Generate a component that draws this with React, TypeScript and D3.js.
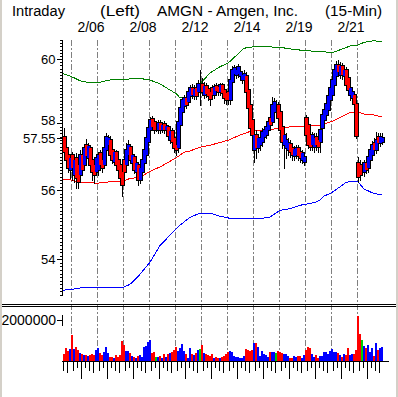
import React from 'react';
import * as d3 from 'd3';

const titleParts = ['Intraday', '(Left)', 'AMGN - Amgen, Inc.', '(15-Min)'];
const sessionLabels = ['2/04', '2/05', '2/06', '2/07', '2/08', '2/11', '2/12', '2/13', '2/14', '2/15', '2/19', '2/20', '2/21'];
const sessionStart = [-9, 4, 17, 30, 43, 56, 69, 82, 95, 108, 121, 134, 147];
const labeledSessions = ['2/06', '2/08', '2/12', '2/14', '2/19', '2/21'];
const priceTicks = [60, 58, 56, 54];
const volumeTicks = [2000000];

const open = [
  57.59, 57.25, 57.04, 56.59, 57.04, 56.44, 56.95, 56.74, 56.44, 57.04,
  56.74, 57.34, 56.95, 57.25, 56.89, 56.74, 56.53, 56.59, 57.10, 56.89,
  56.74, 57.19, 57.34, 57.49, 57.19, 56.83, 57.13, 56.89, 56.74, 56.53,
  56.89, 56.74, 57.04, 57.28, 56.80, 56.98, 56.53, 56.74, 56.30, 56.53,
  56.80, 57.04, 57.43, 57.80, 58.13, 58.04, 57.89, 57.80, 58.01, 57.80,
  57.98, 57.80, 57.89, 57.49, 57.77, 57.55, 57.34, 57.25, 57.95, 58.35,
  58.53, 58.78, 58.66, 58.84, 59.09, 58.84, 59.09, 58.97, 59.15, 59.22,
  58.88, 59.15, 59.06, 58.97, 59.09, 58.88, 59.15, 59.12, 58.97, 59.19,
  59.03, 58.94, 58.97, 58.72, 59.28, 59.53, 59.50, 59.53, 59.47, 59.34,
  59.34, 59.47, 59.03, 58.57, 58.10, 57.19, 57.65, 57.25, 57.34, 57.43,
  57.59, 57.65, 57.80, 58.16, 58.04, 58.35, 58.47, 58.57, 58.35, 57.89,
  57.34, 57.25, 57.19, 57.37, 57.25, 57.01, 57.04, 57.25, 57.13, 56.89,
  56.83, 58.16, 57.95, 57.65, 57.34, 57.28, 57.59, 57.49, 57.43, 57.86,
  58.10, 58.26, 58.41, 58.72, 58.88, 59.19, 59.47, 59.81, 59.50, 59.78,
  59.47, 59.65, 59.40, 58.88, 58.78, 58.88, 58.60, 56.80, 56.74, 56.65,
  56.53, 56.80, 56.65, 56.89, 57.04, 57.40, 57.19, 57.59, 57.40, 57.43,
];
const close = [
  57.13, 56.89, 56.65, 56.95, 56.65, 56.89, 56.36, 56.24, 57.04, 56.59,
  57.25, 57.01, 57.31, 56.74, 56.53, 56.44, 56.95, 57.04, 56.74, 56.65,
  57.25, 57.59, 57.55, 57.04, 56.89, 57.13, 56.74, 56.59, 56.36, 56.15,
  56.53, 57.19, 57.34, 56.89, 57.04, 56.59, 56.80, 56.30, 56.65, 56.89,
  57.19, 57.55, 57.86, 58.10, 57.89, 57.80, 57.89, 58.01, 57.80, 57.95,
  57.80, 57.92, 57.62, 57.77, 57.43, 57.25, 57.19, 58.04, 58.47, 58.72,
  58.78, 58.57, 58.97, 59.09, 58.88, 59.06, 58.84, 59.22, 59.15, 58.97,
  59.15, 58.91, 58.84, 58.75, 58.88, 59.12, 59.00, 58.97, 59.19, 58.94,
  58.78, 58.72, 58.72, 59.34, 59.65, 59.72, 59.65, 59.75, 59.59, 59.50,
  59.53, 58.97, 58.47, 57.86, 57.65, 57.65, 57.25, 57.55, 57.55, 57.74,
  57.80, 57.89, 58.04, 57.95, 58.57, 58.66, 58.47, 58.16, 57.80, 57.43,
  57.65, 57.49, 57.40, 57.13, 57.04, 57.22, 57.25, 57.01, 56.95, 57.10,
  56.98, 57.65, 57.34, 57.28, 57.65, 57.55, 57.34, 57.28, 57.80, 58.26,
  58.41, 58.60, 58.84, 59.09, 59.34, 59.65, 59.81, 59.59, 59.78, 59.50,
  59.65, 59.19, 59.03, 59.09, 58.97, 58.60, 57.62, 56.38, 56.44, 56.65,
  56.80, 56.59, 56.98, 57.19, 57.34, 57.19, 57.49, 57.40, 57.59, 57.55,
];
const high = [
  57.86, 57.34, 57.13, 57.04, 57.13, 57.04, 57.10, 56.89, 57.19, 57.19,
  57.34, 57.52, 57.40, 57.34, 56.98, 56.89, 57.04, 57.13, 57.19, 57.04,
  57.37, 57.71, 57.65, 57.62, 57.28, 57.19, 57.19, 56.98, 56.83, 56.65,
  57.04, 57.40, 57.49, 57.34, 57.13, 57.04, 56.89, 56.83, 56.74, 56.95,
  57.25, 57.65, 57.95, 58.19, 58.22, 58.16, 58.01, 58.10, 58.10, 58.04,
  58.07, 58.01, 57.95, 57.86, 57.86, 57.65, 57.49, 58.16, 58.57, 58.81,
  58.88, 58.91, 59.09, 59.19, 59.22, 59.19, 59.25, 59.34, 59.65, 59.40,
  59.28, 59.25, 59.15, 59.09, 59.19, 59.22, 59.25, 59.22, 59.25, 59.25,
  59.12, 59.06, 59.09, 59.44, 59.78, 59.81, 59.78, 59.84, 59.72, 59.59,
  59.65, 59.59, 59.15, 58.72, 58.22, 57.86, 57.80, 57.65, 57.68, 57.86,
  57.89, 57.98, 58.16, 58.35, 58.81, 58.78, 58.72, 58.66, 58.47, 57.98,
  57.74, 57.71, 57.55, 57.49, 57.34, 57.31, 57.34, 57.34, 57.25, 57.19,
  57.07, 58.26, 58.10, 57.80, 57.74, 57.71, 57.71, 57.62, 57.89, 58.35,
  58.53, 58.72, 58.97, 59.19, 59.47, 59.78, 59.94, 59.97, 59.91, 59.87,
  59.78, 59.75, 59.50, 59.19, 59.06, 58.97, 58.66, 56.98, 56.89, 56.83,
  56.89, 56.95, 57.07, 57.28, 57.46, 57.55, 57.74, 57.71, 57.71, 57.71,
];
const low = [
  57.04, 56.80, 56.53, 56.36, 56.30, 56.24, 56.06, 56.06, 56.30, 56.50,
  56.65, 56.95, 56.89, 56.65, 56.30, 56.21, 56.44, 56.44, 56.65, 56.53,
  56.65, 57.13, 57.19, 56.95, 56.80, 56.74, 56.65, 56.50, 56.15, 55.82,
  56.36, 56.65, 56.89, 56.80, 56.71, 56.50, 56.41, 56.15, 56.21, 56.44,
  56.71, 56.95, 57.34, 57.71, 57.80, 57.71, 57.77, 57.71, 57.71, 57.74,
  57.71, 57.74, 57.49, 57.40, 57.34, 57.13, 57.04, 57.13, 57.86, 58.26,
  58.41, 58.47, 58.57, 58.72, 58.78, 58.75, 58.75, 58.84, 58.57, 58.88,
  58.78, 58.81, 58.72, 58.57, 58.78, 58.78, 58.91, 58.88, 58.88, 58.84,
  58.63, 58.60, 58.60, 58.60, 59.19, 59.44, 59.40, 59.44, 59.37, 59.25,
  59.22, 58.84, 58.35, 57.74, 57.19, 56.83, 56.95, 57.13, 57.19, 57.31,
  57.49, 57.55, 57.71, 57.86, 57.95, 58.26, 58.26, 58.04, 57.65, 57.25,
  56.65, 56.95, 57.04, 56.98, 56.89, 56.89, 56.95, 56.89, 56.83, 56.80,
  56.74, 57.49, 57.25, 57.19, 57.19, 57.13, 57.19, 57.13, 57.13, 57.74,
  57.98, 58.16, 58.35, 58.60, 58.78, 59.09, 59.34, 59.47, 59.40, 59.37,
  59.34, 59.09, 58.94, 58.72, 58.66, 58.50, 57.55, 56.24, 56.30, 56.44,
  56.41, 56.50, 56.53, 56.80, 56.89, 57.10, 57.10, 57.31, 57.31, 57.37,
];
const volume = [
  327000, 634000, 488000, 585000, 1268000, 585000, 683000, 537000, 376000, 327000,
  293000, 293000, 259000, 293000, 356000, 293000, 537000, 620000, 376000, 293000,
  454000, 698000, 376000, 210000, 210000, 132000, 293000, 210000, 293000, 976000,
  780000, 488000, 488000, 376000, 259000, 210000, 161000, 244000, 293000, 210000,
  698000, 732000, 941000, 1024000, 376000, 424000, 210000, 210000, 259000, 161000,
  327000, 210000, 327000, 376000, 424000, 537000, 698000, 488000, 649000, 815000,
  488000, 327000, 161000, 620000, 327000, 293000, 376000, 537000, 585000, 780000,
  376000, 327000, 293000, 259000, 327000, 132000, 210000, 132000, 161000, 210000,
  259000, 327000, 424000, 488000, 454000, 244000, 195000, 195000, 161000, 161000,
  259000, 585000, 537000, 488000, 537000, 893000, 863000, 698000, 259000, 488000,
  327000, 293000, 210000, 454000, 424000, 454000, 376000, 488000, 424000, 376000,
  327000, 327000, 244000, 161000, 161000, 229000, 195000, 229000, 244000, 161000,
  293000, 537000, 698000, 620000, 327000, 210000, 293000, 161000, 259000, 259000,
  454000, 424000, 327000, 488000, 571000, 454000, 424000, 376000, 293000, 195000,
  327000, 293000, 620000, 293000, 327000, 327000, 537000, 2195000, 1302000, 1024000,
  746000, 649000, 780000, 424000, 649000, 259000, 893000, 537000, 649000, 698000,
];

const upperIdx = [-1, 4, 8, 13, 17, 21, 26, 30, 34, 38, 43, 48, 53, 56, 58, 63, 68, 73, 78, 82, 86, 90, 95, 100, 108, 113, 121, 128, 134, 138, 143, 147, 150, 155, 159];
const upperVal = [59.55, 59.44, 59.32, 59.25, 59.25, 59.32, 59.37, 59.34, 59.39, 59.39, 59.34, 59.22, 59.03, 58.92, 58.79, 58.82, 59.22, 59.56, 59.76, 59.87, 60.10, 60.34, 60.39, 60.39, 60.37, 60.32, 60.26, 60.24, 60.20, 60.29, 60.41, 60.44, 60.53, 60.58, 60.54];
const midIdx = [-1, 4, 8, 17, 23, 30, 33, 38, 43, 48, 56, 60, 63, 68, 73, 82, 88, 95, 100, 108, 113, 121, 128, 134, 138, 143, 147, 150, 155, 159];
const midVal = [56.32, 56.30, 56.23, 56.21, 56.25, 56.28, 56.35, 56.38, 56.56, 56.69, 56.96, 57.13, 57.17, 57.28, 57.34, 57.49, 57.65, 57.80, 57.80, 57.85, 57.90, 57.92, 57.95, 58.06, 58.18, 58.33, 58.36, 58.29, 58.26, 58.20];
const lowerIdx = [-1, 4, 11, 17, 30, 33, 36, 38, 43, 48, 53, 58, 63, 68, 73, 78, 83, 98, 103, 108, 113, 118, 121, 126, 128, 130, 133, 138, 141, 143, 147, 150, 155, 159];
const lowerVal = [53.13, 53.16, 53.22, 53.22, 53.22, 53.30, 53.46, 53.58, 53.92, 54.40, 54.69, 54.98, 55.21, 55.33, 55.33, 55.24, 55.18, 55.17, 55.22, 55.41, 55.46, 55.56, 55.59, 55.65, 55.71, 55.83, 55.90, 56.10, 56.23, 56.26, 56.25, 56.04, 55.90, 55.87];

const FONT = "'Liberation Sans', Arial, sans-serif";

export default function App() {
  const N = open.length;
  const x = d3.scaleLinear().domain([0, N]).range([63, 63 + 2 * N]);
  const y = d3.scaleLog().domain([53, 60]).range([295, 59]);
  const yv = d3.scaleLinear().domain([0, 2000000]).range([361, 320]);
  const cx = (i: number) => x(i) + 1;
  const colorOf = (i: number) =>
    close[i] > open[i] ? '#0000ff' : close[i] < open[i] ? '#ff0000' : '#00d000';

  const band = (idx: number[], vals: number[]) =>
    d3.line<number>().x((_, j) => cx(idx[j])).y((d) => y(d))(vals) || '';

  const minorTicks = d3.range(530, 607).map((v) => v / 10);
  const last = close[N - 1];
  const yLast = y(last);

  const tickOffsets = [1, 3, 5, 7, 9, 11];
  const tickLens = [9, 6, 17, 6, 9, 11];

  const titleX = [12, 100, 157, 325];
  const titleW = [53, 40, 141, 57];

  const geo = open.map((o, i) => {
    const c = close[i];
    const x0 = Math.round(x(i));
    const top = Math.round(y(Math.max(o, c)));
    const bot = Math.round(y(Math.min(o, c)));
    const hi = Math.round(y(high[i]));
    const lo = Math.round(y(low[i]));
    return { x0, top, bot: Math.max(bot, top + 1), hi, lo, doji: o === c };
  });

  return (
    <svg
      width={398}
      height={397}
      style={{ position: 'absolute', left: 0, top: 0, background: '#fff' }}
      fontFamily={FONT}
    >
      <rect x={0} y={0} width={398} height={397} fill="#fff" />

      {/* day separators */}
      {sessionStart
        .filter((s) => s > 0)
        .map((s) => (
          <line
            key={'sep' + s}
            x1={x(s) + 0.5}
            x2={x(s) + 0.5}
            y1={40}
            y2={361}
            stroke="#808080"
            strokeDasharray="6,2,2,2"
          />
        ))}

      {/* bands */}
      <g fill="none" strokeWidth={1} shapeRendering="crispEdges">
        <path d={band(upperIdx, upperVal)} stroke="#008000" />
        <path d={band(midIdx, midVal)} stroke="#ff0000" />
        <path d={band(lowerIdx, lowerVal)} stroke="#0000ff" />
      </g>

      {/* candles: black outline pass */}
      <g shapeRendering="crispEdges" fill="#000">
        {geo.map((g, i) => (
          <g key={'cb' + i}>
            <rect x={g.x0 + 1} y={g.hi} width={1} height={g.lo - g.hi + 1} />
            <rect x={g.x0 - 1} y={g.top - 1} width={5} height={g.bot - g.top + 2} />
          </g>
        ))}
      </g>
      {/* candles: colour pass */}
      <g shapeRendering="crispEdges">
        {geo.map((g, i) =>
          g.doji ? null : (
            <rect key={'cf' + i} x={g.x0} y={g.top} width={3} height={g.bot - g.top} fill={colorOf(i)} />
          )
        )}
      </g>

      {/* price axis */}
      <g shapeRendering="crispEdges" stroke="#000">
        <line x1={62.5} x2={62.5} y1={40} y2={296} />
        {minorTicks.map((v) => (
          <line key={'mt' + v} x1={60} x2={62} y1={Math.round(y(v)) + 0.5} y2={Math.round(y(v)) + 0.5} />
        ))}
        {[...priceTicks, last].map((v) => (
          <line key={'Mt' + v} x1={57} x2={62} y1={Math.round(y(v)) + 0.5} y2={Math.round(y(v)) + 0.5} />
        ))}
      </g>
      <g fontSize={13} fill="#000" textAnchor="end">
        {priceTicks.map((v) => {
          const yy = y(v);
          const ly = yy < yLast && yLast - yy < 17.5 ? yLast - 17.5 : yy;
          return (
            <text key={'pl' + v} x={55.5} y={ly} dominantBaseline="central">
              {v}
            </text>
          );
        })}
        <text x={55.5} y={yLast} dominantBaseline="central">
          {last.toFixed(2)}
        </text>
      </g>

      {/* volume bars */}
      <g shapeRendering="crispEdges">
        {volume.map((v, i) => (
          <rect key={'v' + i} x={x(i)} y={yv(v)} width={2} height={361 - yv(v)} fill={colorOf(i)} />
        ))}
      </g>

      {/* volume axis */}
      <g shapeRendering="crispEdges" stroke="#000">
        <line x1={62} x2={389} y1={361.5} y2={361.5} />
        {volumeTicks.map((v) => (
          <g key={'vt' + v}>
            <line x1={57} x2={62} y1={Math.round(yv(v)) + 0.5} y2={Math.round(yv(v)) + 0.5} />
            <line x1={62.5} x2={62.5} y1={yv(v) - 5} y2={yv(v) + 6} />
          </g>
        ))}
        {sessionStart.map((s) =>
          tickOffsets.map((off, j) => {
            const idx = s + off;
            if (idx < 0 || idx > N) return null;
            const xx = x(idx) + 0.5;
            return <line key={'ht' + s + '_' + off} x1={xx} x2={xx} y1={362} y2={362 + tickLens[j]} />;
          })
        )}
      </g>
      <g fontSize={14} fill="#000" textAnchor="end">
        {volumeTicks.map((v) => (
          <text key={'vl' + v} x={56} y={yv(v)} dominantBaseline="central">
            {String(v)}
          </text>
        ))}
      </g>

      {/* title */}
      <g fontSize={14} fill="#000">
        {titleParts.map((t, i) => (
          <text key={'t' + i} x={titleX[i]} y={15.5} textLength={titleW[i]} lengthAdjust="spacingAndGlyphs">
            {t}
          </text>
        ))}
      </g>
      <g fontSize={14} fill="#000" textAnchor="middle">
        {sessionLabels.map((lab, i) =>
          labeledSessions.includes(lab) ? (
            <text key={'d' + lab} x={x(sessionStart[i]) - 6} y={32}>
              {lab}
            </text>
          ) : null
        )}
      </g>

      {/* panel divider */}
      <g shapeRendering="crispEdges" stroke="#000">
        <line x1={2} x2={396} y1={304.5} y2={304.5} />
        <line x1={2} x2={396} y1={306.5} y2={306.5} />
      </g>

      {/* window borders */}
      <rect x={0} y={0} width={2} height={397} fill="#d4d0c8" />
      <rect x={396} y={0} width={2} height={397} fill="#d4d0c8" />
    </svg>
  );
}
